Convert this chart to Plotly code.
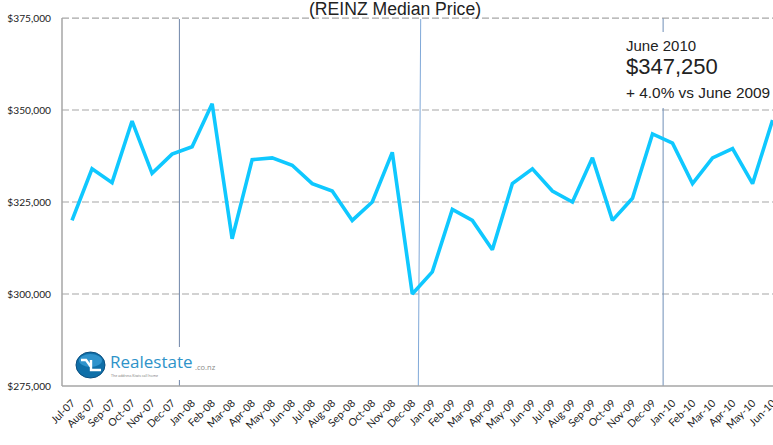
import plotly.graph_objects as go

months = ["Jul-07","Aug-07","Sep-07","Oct-07","Nov-07","Dec-07","Jan-08","Feb-08","Mar-08","Apr-08","May-08","Jun-08",
          "Jul-08","Aug-08","Sep-08","Oct-08","Nov-08","Dec-08","Jan-09","Feb-09","Mar-09","Apr-09","May-09","Jun-09",
          "Jul-09","Aug-09","Sep-09","Oct-09","Nov-09","Dec-09","Jan-10","Feb-10","Mar-10","Apr-10","May-10","Jun-10"]
median_price = [320000,334000,330250,347000,332800,338000,340000,351700,315000,336500,337000,335000,
                330000,328000,320000,325000,338500,300000,306000,323000,320000,312000,330000,334000,
                328000,325000,337000,320000,326000,343500,341000,330000,337000,339500,330000,347250]
y_ticks = [275000,300000,325000,350000,375000]
y_labels = ["$275,000","$300,000","$325,000","$350,000","$375,000"]

W, H, L, T, B = 773, 445, 62, 18, 59
def px(x):
    return (x - L) / (W - L)
def py(y):
    return (H - B - y) / (H - B - T)

fig = go.Figure(go.Scatter(x=list(range(len(months))), y=median_price, mode="lines",
                           line=dict(color="#0FC8FF", width=3.6), hoverinfo="skip"))

shapes = []
for v in y_ticks[1:]:
    shapes.append(dict(type="line", xref="paper", x0=0, x1=1, yref="y", y0=v, y1=v, layer="below",
                       line=dict(color="#A6A6A6", width=1.2, dash="7px 3px")))
# divider lines, interrupted where the logo and the note sit on top of them (pixel rows)
for x0, x1, c, spans in [(5.365, 5.365, "#6F86A8", [(19, 347), (380, 386)]),
                         (17.42, 17.30, "#7FA8D8", [(19, 386)]),
                         (29.53, 29.53, "#6F8FB8", [(18, 32), (108, 386)])]:
    for a, b in spans:
        shapes.append(dict(type="line", xref="x", x0=x0, x1=x1, yref="paper", y0=py(a), y1=py(b), layer="below",
                           line=dict(color=c, width=1)))
# logo roundel
shapes.append(dict(type="circle", xref="paper", yref="paper", x0=px(76), x1=px(105), y0=py(378), y1=py(352),
                   fillcolor="#0F6FA8", line=dict(color="#0B4F80", width=1)))
shapes.append(dict(type="circle", xref="paper", yref="paper", x0=px(79), x1=px(102), y0=py(367), y1=py(354),
                   fillcolor="#2F93CC", line=dict(width=0)))
pts = [(81, 360), (86, 360), (91, 367), (91, 360), (91, 370), (101, 370)]
shapes.append(dict(type="path", xref="paper", yref="paper",
                   path="M " + " L ".join(f"{px(a):.4f},{py(b):.4f}" for a, b in pts),
                   line=dict(color="white", width=2.4)))

def note(text, x, y, size, color="#222222", family="Liberation Sans"):
    return dict(text=text, xref="paper", yref="paper", x=px(x), y=py(y), xanchor="left", yanchor="middle",
                showarrow=False, font=dict(family=family, size=size, color=color))

annotations = [
    note("(REINZ Median Price)", 307, 9, 17.6),
    note("June 2010", 624, 45.5, 15),
    note("$347,250", 624, 66.5, 22),
    note("+ 4.0% vs June 2009", 624, 92, 15.4),
    note("Realestate", 108, 361, 17, color="#2E93C9", family="Open Sans"),
    note(".co.nz", 193, 367, 7.5, color="#8A8A8A", family="Open Sans"),
    note("The address Kiwis call home", 109, 375, 3.6, color="#777777", family="Open Sans"),
]

fig.update_layout(
    width=W, height=H, margin=dict(l=L, r=0, t=T, b=B, autoexpand=False),
    paper_bgcolor="white", plot_bgcolor="white", showlegend=False,
    shapes=shapes, annotations=annotations,
    xaxis=dict(range=[-0.5, 35.02], tickmode="array", tickvals=list(range(len(months))), ticktext=months,
               tickangle=-45, showgrid=False, zeroline=False, showline=False, ticks="",
               ticklabelstandoff=8, ticklabeloverflow="allow",
               tickfont=dict(family="Lato", size=10.5, color="#222222")),
    yaxis=dict(range=[275000, 375000], tickmode="array", tickvals=y_ticks, ticktext=y_labels,
               showgrid=False, zeroline=False, showline=False, ticks="", ticklabelstandoff=10,
               tickfont=dict(family="Lato", size=10.2, color="#222222")),
)
fig.add_shape(type="line", xref="paper", yref="paper", x0=0, x1=0, y0=0, y1=1, line=dict(color="#A6A6A6", width=1.5))
fig.add_shape(type="line", xref="paper", yref="paper", x0=0, x1=1, y0=0, y1=0, line=dict(color="#A6A6A6", width=1.5))
fig.add_shape(type="line", xref="paper", yref="paper", x0=0, x1=1, y0=1, y1=1, line=dict(color="#A6A6A6", width=1.2, dash="7px 3px"))

fig.write_html("out.html", config=dict(displayModeBar=False),
               post_script="document.body.style.margin='0';document.body.style.overflow='hidden';")
